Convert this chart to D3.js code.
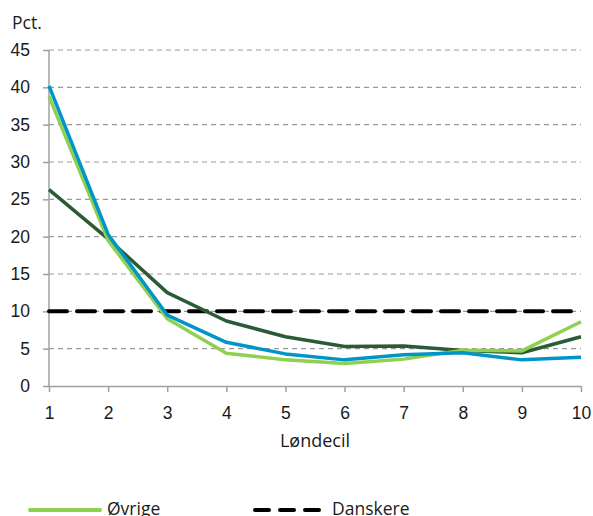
<!DOCTYPE html>
<html lang="da">
<head>
    <meta charset="UTF-8">
    <title>Løndecil</title>
    <script src="https://cdn.jsdelivr.net/npm/d3@7/dist/d3.min.js"></script>
    <style>
        body { margin: 0; background: #fff; }
        svg { display: block; font-family: "Open Sans", sans-serif; }
        .grid line { stroke: #9a9a9a; stroke-dasharray: 5 4; stroke-width: 1.2; }
        .axis path, .axis line { stroke: #a0a0a0; stroke-width: 1.5; }
        .axis text { font-size: 17.5px; fill: #1a1a1a; }
    </style>
</head>
<body>
<svg id="svg" width="593" height="516"></svg>
<script>
    var deciler = [1, 2, 3, 4, 5, 6, 7, 8, 9, 10];
    var yTicks = [0, 5, 10, 15, 20, 25, 30, 35, 40, 45];
    var ovrige = [38.8, 19.5, 9.0, 4.4, 3.5, 3.0, 3.6, 4.8, 4.7, 8.6];
    var blaa = [40.2, 20.3, 9.5, 5.85, 4.3, 3.5, 4.2, 4.45, 3.5, 3.85];
    var morkegroen = [26.3, 19.7, 12.5, 8.7, 6.6, 5.3, 5.35, 4.75, 4.45, 6.6];
    var danskere = [10, 10, 10, 10, 10, 10, 10, 10, 10, 10];

    (function () {
        var svg = d3.select("#svg");
        var pLeft = 49, pRight = 581, pTop = 50, pBottom = 386;

        var x = d3.scaleLinear().domain([1, 10]).range([pLeft, pRight]);
        var y = d3.scaleLinear().domain([0, 45]).range([pBottom, pTop]);

        // gridlines
        svg.append("g").attr("class", "grid")
            .selectAll("line")
            .data(yTicks.filter(function (d) { return d > 0; }))
            .enter().append("line")
            .attr("x1", pLeft).attr("x2", pRight)
            .attr("y1", function (d) { return y(d); })
            .attr("y2", function (d) { return y(d); });

        // y axis
        var yAxis = svg.append("g").attr("class", "axis")
            .attr("transform", "translate(" + pLeft + ",0)")
            .call(d3.axisLeft(y).tickValues(yTicks).tickSize(6).tickPadding(13).tickSizeOuter(0));
        yAxis.select(".domain").attr("d", "M0," + pTop + "V" + pBottom);

        // x axis
        svg.append("g").attr("class", "axis")
            .attr("transform", "translate(0," + pBottom + ")")
            .call(d3.axisBottom(x).tickValues(deciler).tickSize(6).tickPadding(15).tickSizeOuter(0));

        svg.append("text").attr("x", 12).attr("y", 28.5)
            .style("font-size", "17.5px").attr("fill", "#1a1a1a").text("Pct.");
        svg.append("text").attr("x", (pLeft + pRight) / 2).attr("y", 447)
            .attr("text-anchor", "middle")
            .style("font-size", "18px").attr("fill", "#1a1a1a").text("Løndecil");

        var line = d3.line()
            .x(function (d, i) { return x(deciler[i]); })
            .y(function (d) { return y(d); });

        var series = [
            {data: danskere, color: "#000000", width: 4, dash: "18 10"},
            {data: morkegroen, color: "#2b5b35", width: 3.5, dash: null},
            {data: ovrige, color: "#8fd14f", width: 3.5, dash: null},
            {data: blaa, color: "#0095c8", width: 3.5, dash: null}
        ];

        svg.append("g").selectAll("path")
            .data(series)
            .enter().append("path")
            .attr("d", function (d) { return line(d.data); })
            .attr("fill", "none")
            .attr("stroke", function (d) { return d.color; })
            .attr("stroke-width", function (d) { return d.width; })
            .attr("stroke-dasharray", function (d) { return d.dash; })
            .attr("stroke-linecap", function (d) { return d.dash ? "round" : "butt"; })
            .attr("stroke-linejoin", "round");

        // legend (rest is cropped)
        var legend = [
            {name: "Øvrige", color: "#8fd14f", dash: null, x: 30},
            {name: "Danskere", color: "#000000", dash: "14 11", x: 255}
        ];
        var lg = svg.append("g").selectAll("g").data(legend).enter().append("g")
            .attr("transform", function (d) { return "translate(" + d.x + ",510)"; });
        lg.append("line")
            .attr("x1", 0).attr("x2", 70)
            .attr("stroke", function (d) { return d.color; })
            .attr("stroke-width", 4)
            .attr("stroke-linecap", "round")
            .attr("stroke-dasharray", function (d) { return d.dash; });
        lg.append("text").attr("x", 77).attr("y", 5)
            .style("font-size", "17.5px").attr("fill", "#1a1a1a")
            .text(function (d) { return d.name; });
    })();
</script>
</body>
</html>
